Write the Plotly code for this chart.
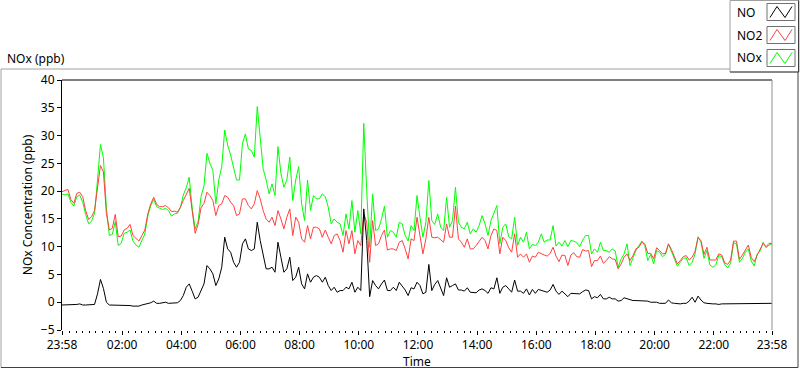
import pandas as pd
import plotly.graph_objects as go

# ---------------- data (6-minute samples, 23:58 -> 23:58 next day) ----------------
start_time = "2000-01-01 23:58"
end_time = "2000-01-02 23:58"
step = "6min"

nox = [
    19.5, 19.3, 19.5, 18.0, 17.3, 19.0, 19.3, 18.0, 15.8, 14.1,
    14.6, 16.0, 22.0, 28.4, 26.0, 17.0, 12.0, 12.2, 14.5, 10.2,
    10.6, 12.4, 12.6, 13.0, 11.0, 10.3, 9.9, 11.0, 12.3, 15.5,
    17.4, 18.5, 17.2, 16.9, 16.7, 16.9, 16.5, 15.5, 15.9, 16.0,
    17.0, 19.3, 20.6, 22.5, 17.0, 13.2, 14.5, 19.0, 21.0,
    26.8, 25.0, 23.7, 17.7, 22.0, 24.4, 31.0, 28.3, 26.5, 24.0,
    22.0, 22.0, 28.6, 30.3, 27.6, 27.3, 26.1, 35.2, 29.2, 24.0,
    22.0, 19.5, 21.3, 19.2, 28.0, 23.2, 20.7, 22.0, 26.1, 18.3,
    22.0, 24.4, 17.7, 14.7, 22.0, 16.5, 19.2, 18.6, 18.6, 19.5,
    19.0, 17.1, 14.1, 15.0, 14.4, 14.1, 12.0,
    15.9, 13.2, 18.3, 12.6, 16.5, 12.3, 32.2, 20.1, 9.9, 19.5,
    12.9, 13.2, 15.0, 17.3, 11.7, 12.9, 12.6, 11.7, 14.4, 14.1,
    12.0, 11.0, 13.8, 12.9, 19.2, 15.3, 11.7, 14.4, 21.9, 14.7,
    14.0, 15.9, 13.5, 12.9, 18.9, 13.5, 14.7, 20.7, 14.4, 13.5,
    13.2, 14.4, 12.3, 13.2, 12.6, 13.8, 15.6,
    14.1, 12.0, 14.7, 16.2, 17.4, 10.5, 13.5, 14.1, 11.8, 11.4,
    15.3, 10.2, 11.7, 10.8, 12.6, 9.6, 10.4, 10.2, 10.8, 12.3,
    10.8, 11.2, 11.2, 13.8, 10.1, 10.8, 10.1, 11.1, 10.0, 11.1,
    11.0, 10.7, 10.0, 11.2, 12.0, 12.0, 8.7, 9.6, 9.0, 10.8,
    9.3, 9.3, 9.0, 9.6, 9.2, 6.3, 7.8, 8.7,
    10.5, 6.6, 8.1, 9.3, 10.2, 11.0, 10.2, 7.5, 8.6, 6.9,
    9.3, 9.0, 8.2, 8.6, 10.5, 9.2, 7.8, 6.5, 7.2, 7.9,
    8.0, 6.6, 7.2, 8.7, 11.8, 10.8, 7.9, 9.3, 6.7, 6.3,
    6.7, 8.4, 8.2, 6.8, 6.2, 7.0, 10.7, 10.5, 7.2, 7.9,
    9.0, 9.6, 7.4, 6.5, 8.7, 9.2, 10.8, 9.8, 10.3, 10.5,
]

no2 = [
    19.9, 20.1, 20.3, 18.5, 17.8, 19.6, 19.8, 19.0, 16.5, 14.9,
    15.4, 16.5, 20.8, 24.6, 23.5, 16.0, 13.0, 13.3, 15.8, 11.8,
    11.9, 13.0, 13.3, 14.0, 12.0, 11.5, 11.0, 12.0, 13.0, 15.9,
    17.7, 18.9, 17.6, 17.2, 17.2, 17.4, 17.0, 16.3, 16.4, 16.2,
    17.1, 18.3, 19.4, 20.5, 16.5, 12.4, 14.0, 17.0, 17.8,
    19.8, 19.2, 18.3, 15.6, 17.4, 17.7, 19.2, 18.9, 18.0, 17.4,
    15.6, 15.9, 18.6, 18.6, 17.4, 16.8, 17.7, 20.1, 18.6, 16.5,
    15.0, 14.4, 15.3, 13.8, 16.5, 15.0, 13.2, 15.3, 16.8, 12.0,
    15.3, 14.4, 11.4, 10.8, 13.8, 11.4, 13.5, 13.5, 13.2, 11.7,
    13.0, 11.7, 10.5, 12.0, 12.3, 11.1, 9.0,
    12.9, 10.5, 12.9, 8.7, 11.1, 10.2, 15.9, 14.4, 7.2, 14.7,
    10.2, 10.5, 12.0, 13.0, 9.4, 9.6, 9.6, 9.3, 10.8, 11.1,
    9.6, 7.8, 11.4, 11.1, 15.3, 12.3, 8.7, 11.4, 15.3, 11.7,
    11.6, 11.7, 11.2, 10.8, 14.1, 11.7, 11.7, 17.3, 11.4, 10.8,
    9.9, 11.4, 9.6, 9.6, 10.2, 11.0, 11.7,
    11.1, 9.6, 12.0, 13.2, 12.9, 8.7, 11.7, 11.1, 9.8, 9.0,
    12.3, 8.1, 8.7, 8.1, 8.7, 7.2, 8.3, 8.1, 9.0, 8.7,
    8.5, 8.3, 8.8, 9.9, 8.3, 7.3, 8.5, 8.4, 6.6, 8.5,
    8.9, 8.2, 8.1, 9.5, 9.2, 9.3, 6.4, 7.5, 7.5, 8.3,
    7.0, 7.5, 8.2, 7.8, 7.7, 6.0, 6.9, 8.1,
    8.7, 7.5, 8.4, 9.6, 9.9, 10.8, 10.5, 8.8, 8.8, 7.8,
    9.8, 9.3, 8.7, 8.8, 10.5, 9.5, 8.3, 6.9, 7.5, 8.2,
    8.4, 7.6, 8.1, 9.2, 11.6, 11.1, 8.6, 9.9, 7.6, 7.6,
    7.6, 8.7, 8.5, 7.1, 6.8, 7.6, 11.0, 11.0, 7.7, 8.5,
    9.3, 10.3, 8.0, 7.3, 8.5, 9.5, 10.6, 10.0, 10.6, 10.6,
]

no = [
    -0.5, -0.5, -0.5, -0.5, -0.5, -0.4, -0.3, -0.5, -0.5, -0.5,
    -0.5, -0.4, 1.5, 4.1, 2.5, 0.0, -0.5, -0.5, -0.6, -0.6,
    -0.5, -0.6, -0.6, -0.6, -0.7, -0.7, -0.7, -0.5, -0.4, -0.3,
    -0.1, 0.2, -0.2, -0.2, -0.1, 0.0, -0.2, -0.2, -0.2, -0.1,
    0.3, 1.2, 2.7, 3.3, 2.0, 0.6, 0.9, 2.0, 3.3,
    6.6, 6.0, 5.1, 3.0, 4.2, 6.3, 11.7, 9.6, 9.0, 7.2,
    6.3, 7.2, 10.5, 11.4, 9.6, 9.3, 9.6, 14.4, 11.1, 8.7,
    6.0, 6.0, 6.3, 5.4, 10.8, 8.1, 5.4, 6.0, 8.1, 3.9,
    4.5, 6.3, 3.3, 2.4, 5.1, 3.6, 4.5, 4.8, 4.5, 3.6,
    4.5, 3.0, 2.1, 2.7, 1.8, 2.1, 2.1,
    2.7, 2.4, 3.6, 1.8, 2.7, 2.1, 16.8, 11.1, 1.0, 3.9,
    3.0, 2.4, 3.3, 4.0, 2.1, 2.1, 2.7, 2.1, 3.6, 3.0,
    2.2, 1.2, 2.6, 2.4, 3.6, 3.0, 1.5, 1.8, 6.8, 2.1,
    3.2, 3.9, 2.4, 1.2, 4.4, 2.7, 3.0, 3.3, 2.2, 2.2,
    2.0, 2.6, 1.8, 1.8, 1.7, 2.2, 2.4,
    2.1, 1.6, 2.6, 2.4, 4.4, 1.6, 2.7, 3.0, 2.4, 1.8,
    4.0, 2.0, 2.0, 1.6, 2.4, 1.3, 2.3, 1.6, 2.3, 2.1,
    1.9, 1.8, 2.2, 3.2, 2.0, 1.4, 2.0, 1.5, 1.0, 1.6,
    1.6, 1.6, 1.5, 1.9, 2.2, 2.1, 0.6, 1.0, 0.8, 1.4,
    0.6, 0.6, 0.9, 0.6, 0.6, 0.2, 0.3, 0.8,
    0.6, 0.5, 0.3, 0.3, 0.3, 0.3, 0.2, 0.2, 0.0, 0.0,
    0.0, -0.2, -0.2, -0.2, 0.4, -0.1, -0.2, -0.3, -0.3, -0.2,
    -0.2, 0.2, 0.9, 0.0, 1.1, 0.4, -0.1, -0.2, -0.3, -0.3,
    -0.3, -0.4, -0.3, -0.3, -0.2, -0.2, -0.2, -0.3, -0.3, -0.3,
    -0.3, -0.3, -0.3, -0.2, -0.3, -0.3, -0.3, -0.2, -0.2, -0.2,
]

series_names = ["NO", "NO2", "NOx"]
series_colors = ["#000000", "#ff4040", "#00ff00"]

tick_times = ["2000-01-01 23:58", "2000-01-02 02:00", "2000-01-02 04:00", "2000-01-02 06:00",
              "2000-01-02 08:00", "2000-01-02 10:00", "2000-01-02 12:00", "2000-01-02 14:00",
              "2000-01-02 16:00", "2000-01-02 18:00", "2000-01-02 20:00", "2000-01-02 22:00",
              "2000-01-02 23:58"]
tick_labels = ["23:58", "02:00", "04:00", "06:00", "08:00", "10:00", "12:00", "14:00",
               "16:00", "18:00", "20:00", "22:00", "23:58"]

# ---------------- figure ----------------
W, H = 800, 369
ML, MR, MT, MB = 62, 28, 80, 39
PW, PH = W - ML - MR, H - MT - MB
FONT = "Noto Sans"


def px(x):
    return (x - ML) / PW


def py(y):
    return (H - MB - y) / PH


n = min(len(nox), len(no2), len(no))
times = pd.date_range(start_time, periods=n, freq=step)

fig = go.Figure()
for name, vals, col in [("NOx", nox, series_colors[2]),
                        ("NO2", no2, series_colors[1]),
                        ("NO", no, series_colors[0])]:
    fig.add_trace(go.Scatter(x=times, y=vals[:n], mode="lines", name=name,
                             line=dict(color=col, width=1), showlegend=False,
                             hoverinfo="skip"))

shapes = []
annotations = []

# outer frame (raised look)
shapes.append(dict(type="line", xref="paper", yref="paper", x0=px(1), x1=px(730), y0=py(69), y1=py(69),
                   line=dict(color="#a0a0a0", width=1), layer="below"))
shapes.append(dict(type="line", xref="paper", yref="paper", x0=px(1), x1=px(1), y0=py(69), y1=py(367.5),
                   line=dict(color="#a0a0a0", width=1), layer="below"))
shapes.append(dict(type="line", xref="paper", yref="paper", x0=px(1), x1=px(798), y0=py(367.5), y1=py(367.5),
                   line=dict(color="#404040", width=1), layer="below"))
shapes.append(dict(type="line", xref="paper", yref="paper", x0=px(798), x1=px(798), y0=py(72), y1=py(367.5),
                   line=dict(color="#404040", width=1), layer="below"))

# plot area frame: top black, right grey
shapes.append(dict(type="line", xref="paper", yref="paper", x0=0, x1=1, y0=1, y1=1,
                   line=dict(color="#000000", width=1)))
shapes.append(dict(type="line", xref="paper", yref="paper", x0=1, x1=1, y0=0, y1=1,
                   line=dict(color="#909090", width=1)))

# legend box
LX0, LX1, LY0, LY1 = 730, 799, 0.5, 72
shapes.append(dict(type="rect", xref="paper", yref="paper", x0=px(LX0), x1=px(LX1), y0=py(LY1), y1=py(LY0),
                   line=dict(color="#a0a0a0", width=1), fillcolor="white"))
shapes.append(dict(type="line", xref="paper", yref="paper", x0=px(LX0), x1=px(LX1), y0=py(LY1), y1=py(LY1),
                   line=dict(color="#404040", width=1)))
shapes.append(dict(type="line", xref="paper", yref="paper", x0=px(LX1 - 0.5), x1=px(LX1 - 0.5), y0=py(LY1), y1=py(LY0),
                   line=dict(color="#404040", width=1)))

legend_rows = [(3.5, 20.5), (26.5, 43.5), (49.5, 66.5)]
for (y0, y1), name, col in zip(legend_rows, series_names, series_colors):
    bx0, bx1 = 767, 795
    shapes.append(dict(type="rect", xref="paper", yref="paper", x0=px(bx0), x1=px(bx1), y0=py(y1), y1=py(y0),
                       line=dict(color="#707070", width=1), fillcolor="white"))
    pts = [(bx0 + 3, y1 - 3), (bx0 + 10, y0 + 3), (bx0 + 18, y1 - 3), (bx0 + 25, y0 + 3)]
    path = "M " + " L ".join(f"{px(a):.5f},{py(b):.5f}" for a, b in pts)
    shapes.append(dict(type="path", xref="paper", yref="paper", path=path,
                       line=dict(color=col, width=1)))
    annotations.append(dict(text=name, xref="paper", yref="paper", x=px(735), y=py((y0 + y1) / 2),
                            xanchor="left", yanchor="middle", showarrow=False,
                            font=dict(family=FONT, size=12, color="#000000")))

annotations.append(dict(text="NOx (ppb)", xref="paper", yref="paper", x=px(5), y=py(59),
                        xanchor="left", yanchor="middle", showarrow=False,
                        font=dict(family=FONT, size=12, color="#000000")))
annotations.append(dict(text="Time", xref="paper", yref="paper", x=0.5, y=py(361.5),
                        xanchor="center", yanchor="middle", showarrow=False,
                        font=dict(family=FONT, size=12, color="#000000")))

fig.update_layout(
    width=W, height=H,
    margin=dict(l=ML, r=MR, t=MT, b=MB, pad=0, autoexpand=False),
    paper_bgcolor="white", plot_bgcolor="white",
    font=dict(family=FONT, size=12, color="#000000"),
    showlegend=False,
    shapes=shapes, annotations=annotations,
    xaxis=dict(
        type="date", range=[start_time, end_time], automargin=False,
        showgrid=False, zeroline=False, showline=False,
        ticks="outside", ticklen=4, tickwidth=1, tickcolor="#000000",
        tickvals=tick_times, ticktext=tick_labels,
        ticklabelstandoff=0,
        tickfont=dict(family=FONT, size=12, color="#000000"),
        minor=dict(ticks="outside", ticklen=2, tickcolor="#000000", tickwidth=1,
                   dtick=800000, tick0="2000-01-02 02:00", showgrid=False),
    ),
    yaxis=dict(
        range=[-5, 40], dtick=5, tick0=0, automargin=False,
        showgrid=False, zeroline=False, showline=True, linecolor="#000000", linewidth=1,
        ticks="outside", ticklen=4, tickwidth=1, tickcolor="#000000",
        tickfont=dict(family=FONT, size=12, color="#000000"),
        title=dict(text="NOx Concentration (ppb)", font=dict(family=FONT, size=12, color="#000000"), standoff=5),
    ),
)

fig.write_html("out.html", config={"displayModeBar": False},
               post_script="document.body.style.margin='0';document.body.style.overflow='hidden';")
